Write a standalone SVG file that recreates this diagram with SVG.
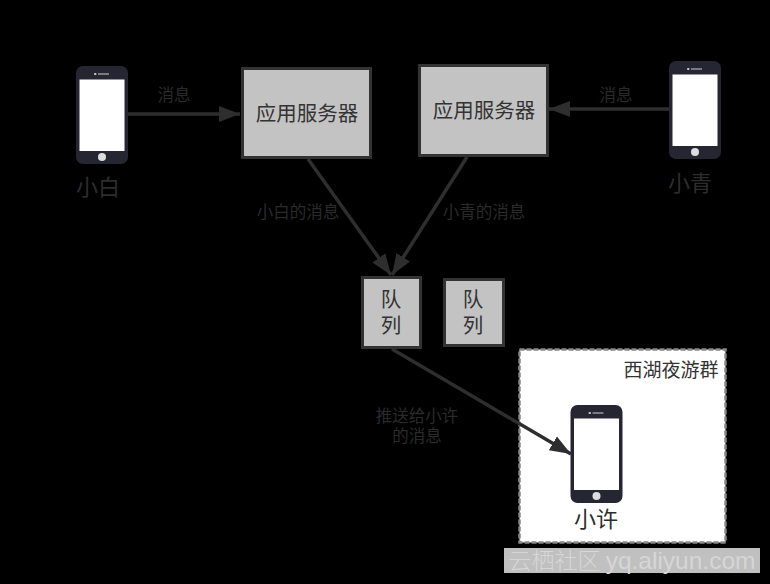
<svg xmlns="http://www.w3.org/2000/svg" width="770" height="584" viewBox="0 0 770 584">
<style>
text{font-family:"Noto Sans CJK SC","Liberation Sans",sans-serif;text-anchor:middle}
.box{fill:#c3c3c3;stroke:#333;stroke-width:3}
.node{font-size:20.500px;fill:#333}
.lab{font-size:16.500px;fill:#2a2a2a}
.name{font-size:22px;fill:#2d2d2d}
.c{fill:none;stroke:#2e2e2e;stroke-width:3.500}
.ph{fill:#262632}
</style>
<defs>
<marker id="a" markerUnits="userSpaceOnUse" markerWidth="22" markerHeight="26" refX="21" refY="13" orient="auto"><path d="M0 5 21 13 0 21 0 13Z" fill="#2e2e2e"/></marker>
<g id="phone"><rect class="ph" width="52" height="98" rx="7"/><rect x="3.500" y="13.500" width="45" height="71.500" fill="#fff"/><circle cx="26" cy="91" r="4" fill="#ddd"/><rect x="18" y="7" width="2.500" height="2" rx="1" fill="#ccc"/><rect x="22" y="7.500" width="11" height="1" fill="#ccc"/></g>
</defs>
<rect width="770" height="584" fill="#000"/>
<g id="group"><rect x="519.500" y="349.500" width="206" height="193" fill="#fff" stroke="#888" stroke-width="2.500" stroke-dasharray="5 2"/><text x="671" y="377" font-size="19" fill="#333">西湖夜游群</text></g>
<g id="connectors">
<path class="c" d="M128 114H240" marker-end="url(#a)"/>
<path class="c" d="M669 109H549" marker-end="url(#a)"/>
<path class="c" d="M308 159 391 275" marker-end="url(#a)"/>
<path class="c" d="M467 157 392 275" marker-end="url(#a)"/>
<path class="c" d="M392 349 571 454" marker-end="url(#a)"/>
<text class="lab" x="174" y="101">消息</text>
<text class="lab" x="616" y="101">消息</text>
<text class="lab" x="298" y="218">小白的消息</text>
<text class="lab" x="484" y="218">小青的消息</text>
<text class="lab" x="417" y="422">推送给小许<tspan x="417" dy="20">的消息</tspan></text>
</g>
<g id="phone1"><use href="#phone" x="76" y="66"/><text class="name" x="98" y="195">小白</text></g>
<g id="phone2"><use href="#phone" x="669" y="61"/><text class="name" x="690" y="191">小青</text></g>
<g id="server1"><rect class="box" x="242.500" y="68.500" width="128" height="89"/><text class="node" x="307" y="121">应用服务器</text></g>
<g id="server2"><rect class="box" x="419.500" y="65.500" width="128" height="90"/><text class="node" x="484" y="118">应用服务器</text></g>
<g id="queue1"><rect class="box" x="362.500" y="277.500" width="58" height="70"/><text class="node" x="391" y="307">队<tspan x="391" dy="26">列</tspan></text></g>
<g id="queue2"><rect class="box" x="444.500" y="279.500" width="59" height="66"/><text class="node" x="473" y="307">队<tspan x="473" dy="26">列</tspan></text></g>
<g id="phone3"><use href="#phone" x="570.500" y="405"/><text class="name" x="596" y="527">小许</text></g>
<g id="watermark"><rect x="504" y="548" width="256" height="25" fill="#c0c0c0"/><text x="632" y="569" font-size="23" font-weight="300" fill="#d6d6d6">云栖社区 <tspan font-family="'Liberation Sans',sans-serif" font-size="24.500">yq.aliyun.com</tspan></text></g>
</svg>
